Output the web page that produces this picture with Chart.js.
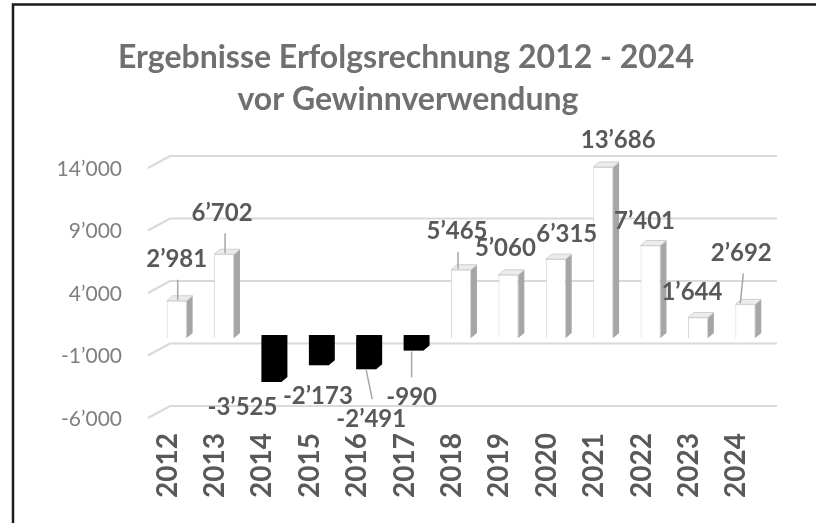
<!DOCTYPE html>
<html>
<head>
<meta charset="utf-8">
<script src="https://cdn.jsdelivr.net/npm/chart.js@4/dist/chart.umd.min.js"></script>
<style>
  html, body { margin: 0; padding: 0; background: #fff; }
  #wrap { width: 816px; height: 523px; }
</style>
</head>
<body>
<div id="wrap"><canvas id="myChart" width="816" height="523"></canvas></div>
<script>
// data
const years = ['2012', '2013', '2014', '2015', '2016', '2017', '2018', '2019', '2020', '2021', '2022', '2023', '2024'];
const results = [2981, 6702, -3525, -2173, -2491, -990, 5465, 5060, 6315, 13686, 7401, 1644, 2692];
const yTicks = [-6000, -1000, 4000, 9000, 14000];
const titleLines = ['Ergebnisse Erfolgsrechnung 2012 - 2024', 'vor Gewinnverwendung'];

// where each value label sits, relative to the end of its bar (px)
const labelDx = [0, -2, -29, -1, 5, -2, -4, -3, 11, 15, -6, -6, -4];
const labelDy = [-41, -41, 25, 31, 50, 47, -38, -26, -25, -27, -24, -25, -51];
// leader lines: [bar index, x at bar end, x at label end]
const leaders = [[0, 1, 1], [1, 1, 1], [4, 0, 6], [5, -2, -2], [6, -3, -3], [12, -5, -2]];

const DX = 6, DY = 5;

function fmt(v) {
    var s = String(Math.abs(v)).replace(/\B(?=(\d{3})+(?!\d))/g, '\u2019');
    return (v < 0 ? '-' : '') + s;
}

const frame = {
    id: 'frame',
    beforeDraw(chart) {
        const c = chart.ctx;
        c.save();
        c.strokeStyle = '#1a1a1a';
        c.lineWidth = 2.5;
        c.beginPath();
        c.moveTo(13, 523);
        c.lineTo(13, 4.5);
        c.lineTo(816, 4.5);
        c.stroke();
        // title, centred on the frame rather than on the plot
        c.font = 'bold 32px Lato';
        c.fillStyle = '#707070';
        c.textAlign = 'center';
        c.textBaseline = 'middle';
        c.fillText(titleLines[0], 406, 58);
        c.fillText(titleLines[1], 408, 100);
        c.restore();
    }
};

const wall = {
    id: 'wall',
    beforeDatasetsDraw(chart) {
        const c = chart.ctx;
        const y = chart.scales.y;
        const area = chart.chartArea;
        c.save();
        c.strokeStyle = '#d9d9d9';
        c.lineWidth = 2;
        yTicks.forEach(function(v) {
            var p = y.getPixelForValue(v);
            c.beginPath();
            c.moveTo(area.left - 5, p + 5);
            c.lineTo(area.left + 17, p - 7);
            c.lineTo(area.right + 8, p - 7);
            c.stroke();
        });
        c.restore();
    }
};

const bars3d = {
    id: 'bars3d',
    afterDatasetsDraw(chart) {
        const c = chart.ctx;
        const meta = chart.getDatasetMeta(0);
        c.save();
        meta.data.forEach(function(bar, i) {
            var xl = bar.x - bar.width / 2, xr = bar.x + bar.width / 2;
            var top = bar.y, base = bar.base;
            if (results[i] >= 0) {
                c.fillStyle = '#a6a6a6';
                c.beginPath();
                c.moveTo(xr, top);
                c.lineTo(xr + DX, top - DY);
                c.lineTo(xr + DX, base - DY);
                c.lineTo(xr, base);
                c.closePath();
                c.fill();
                c.fillStyle = '#ececec';
                c.strokeStyle = '#d0d0d0';
                c.lineWidth = 1;
                c.beginPath();
                c.moveTo(xl, top);
                c.lineTo(xl + DX, top - DY);
                c.lineTo(xr + DX, top - DY);
                c.lineTo(xr, top);
                c.closePath();
                c.fill();
                c.stroke();
            } else {
                c.fillStyle = '#000';
                c.beginPath();
                c.moveTo(xl, base - 3);
                c.lineTo(xr + DX, base - 3);
                c.lineTo(xr + DX, top - DY);
                c.lineTo(xr, top);
                c.lineTo(xl, top);
                c.closePath();
                c.fill();
            }
        });

        // leader lines
        c.strokeStyle = '#a6a6a6';
        c.lineWidth = 1.5;
        leaders.forEach(function(l) {
            var bar = meta.data[l[0]];
            var dir = results[l[0]] >= 0 ? -1 : 1;
            var ly = bar.y + labelDy[l[0]];
            c.beginPath();
            c.moveTo(bar.x + l[1], bar.y + dir * 1);
            c.lineTo(bar.x + l[2], ly - dir * 20);
            c.stroke();
        });

        // value labels
        c.font = 'bold 24px Lato';
        c.fillStyle = '#595959';
        c.textAlign = 'center';
        c.textBaseline = 'middle';
        meta.data.forEach(function(bar, i) {
            c.fillText(fmt(results[i]), bar.x + labelDx[i], bar.y + labelDy[i]);
        });
        c.restore();
    }
};

const ctx = document.getElementById('myChart');
var myChart = new Chart(ctx, {
    type: 'bar',
    data: {
        labels: years,
        datasets: [{
            data: results,
            backgroundColor: results.map(v => v >= 0 ? '#ffffff' : '#000000'),
            borderColor: results.map(v => v >= 0 ? '#d6d6d6' : '#000000'),
            borderWidth: 1,
            barPercentage: 0.42,
            categoryPercentage: 1
        }]
    },
    options: {
        responsive: false,
        animation: false,
        devicePixelRatio: 1,
        layout: { padding: { top: 163, left: 0, right: 47, bottom: 0 } },
        plugins: {
            legend: { display: false },
            tooltip: { enabled: false },
            title: { display: false }
        },
        scales: {
            x: {
                grid: { display: false, drawTicks: false },
                border: { display: false },
                ticks: {
                    color: '#595959',
                    font: { family: 'Lato', size: 28, weight: 'bold' },
                    minRotation: 90,
                    maxRotation: 90,
                    padding: 20,
                    labelOffset: -9
                },
                afterFit(scale) { scale.height = 110; }
            },
            y: {
                min: -6000,
                max: 14000,
                grid: { display: false, drawTicks: false },
                border: { display: false },
                afterBuildTicks(scale) { scale.ticks = yTicks.map(v => ({ value: v })); },
                ticks: {
                    color: '#7f7f7f',
                    font: { family: 'Lato', size: 21 },
                    padding: 31,
                    labelOffset: 6,
                    callback: function(v) { return fmt(v); }
                },
                afterFit(scale) { scale.width = 153; }
            }
        }
    },
    plugins: [frame, wall, bars3d]
});
</script>
</body>
</html>
